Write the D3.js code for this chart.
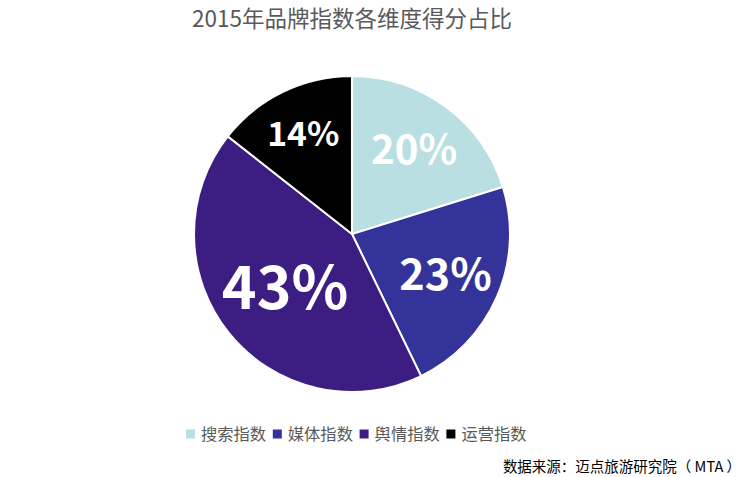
<!DOCTYPE html>
<html>
<head>
<meta charset="utf-8">
<script src="https://cdn.jsdelivr.net/npm/d3@7"></script>
<style>
  body { margin: 0; background: #fff; }
  text { font-family: "Noto Sans CJK SC", "Noto Sans", sans-serif; }
</style>
</head>
<body>
<script>
const title = "2015年品牌指数各维度得分占比";
const source = "数据来源：迈点旅游研究院（ MTA ）";
const categories = ["搜索指数", "媒体指数", "舆情指数", "运营指数"];
const shares = [20.2, 22.6, 42.8, 14.4];
const colors = ["#b9dfe3", "#333399", "#3c1e82", "#000000"];

const width = 747, height = 477;
const cx = 352, cy = 234, radius = 158;

const svg = d3.select("body").append("svg")
    .attr("width", width)
    .attr("height", height);

svg.append("text")
    .attr("x", cx)
    .attr("y", 27)
    .attr("text-anchor", "middle")
    .attr("font-size", 22.5)
    .attr("fill", "#595959")
    .text(title);

const data = categories.map((c, i) => ({ name: c, value: shares[i], color: colors[i] }));

const pie = d3.pie().sort(null).value(d => d.value);
const arc = d3.arc().innerRadius(0).outerRadius(radius);
const fontSize = d3.scaleSqrt().domain([0, 43]).range([0, 59]);

const g = svg.append("g").attr("transform", `translate(${cx},${cy})`);
const arcs = pie(data);

g.selectAll("path").data(arcs).join("path")
    .attr("d", arc)
    .attr("fill", d => d.data.color)
    .attr("stroke", "#fff")
    .attr("stroke-width", 2);

// bigger labels sit a bit closer to the centre
g.selectAll("text").data(arcs).join("text")
    .each(function (d) {
        const fs = fontSize(Math.round(d.data.value));
        const r = 145 - fs;
        const a = (d.startAngle + d.endAngle) / 2;
        d3.select(this)
            .attr("x", Math.sin(a) * r)
            .attr("y", -Math.cos(a) * r)
            .attr("font-size", fs);
    })
    .attr("dy", "0.36em")
    .attr("text-anchor", "middle")
    .attr("font-family", "'Open Sans', sans-serif")
    .attr("font-weight", "bold")
    .attr("fill", "#fff")
    .text(d => Math.round(d.data.value) + "%");

// legend
const legend = svg.append("g").attr("transform", "translate(186,434)");
const item = legend.selectAll("g").data(data).join("g")
    .attr("transform", (d, i) => `translate(${i * 86.8},0)`);
item.append("rect")
    .attr("x", 0).attr("y", -4.5)
    .attr("width", 9).attr("height", 9)
    .attr("fill", d => d.color);
item.append("text")
    .attr("x", 15)
    .attr("dy", "0.36em")
    .attr("font-size", 16.3)
    .attr("fill", "#595959")
    .text(d => d.name);

svg.append("text")
    .attr("x", 741)
    .attr("y", 472)
    .attr("text-anchor", "end")
    .attr("font-size", 14.5)
    .attr("fill", "#000")
    .text(source);
</script>
</body>
</html>
